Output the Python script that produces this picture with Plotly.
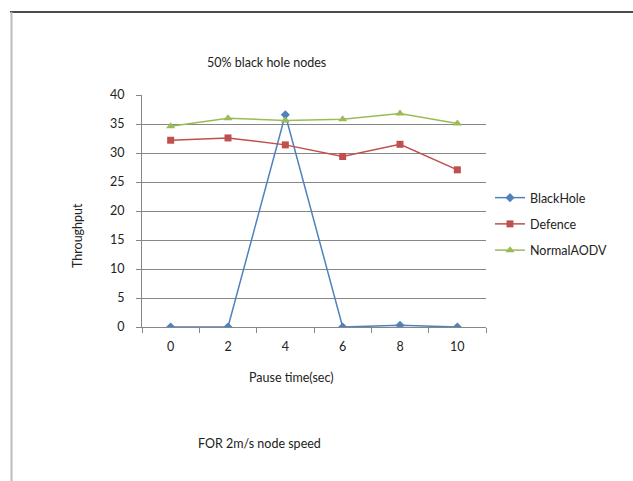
import plotly.graph_objects as go

pause_time = [0, 2, 4, 6, 8, 10]
tick_labels = ["0", "2", "4", "6", "8", "10"]
blackhole = [0, 0, 36.6, 0, 0.3, 0]
defence = [32.2, 32.6, 31.4, 29.4, 31.5, 27.1]
normal_aodv = [34.6, 36.0, 35.6, 35.8, 36.8, 35.1]

FONT = "Lato"
W, H = 633, 481
L, R, T, B = 142, 486, 95, 327

fig = go.Figure()
fig.add_trace(go.Scatter(x=pause_time, y=blackhole, name="BlackHole", mode="lines+markers",
                         legendgroup="a",
                         line=dict(color="#4F81BD", width=1.5),
                         marker=dict(symbol="diamond", size=7, color="#4F81BD")))
fig.add_trace(go.Scatter(x=pause_time, y=defence, name="Defence", mode="lines+markers",
                         legendgroup="b",
                         line=dict(color="#C0504D", width=1.5),
                         marker=dict(symbol="square", size=7, color="#C0504D")))
fig.add_trace(go.Scatter(x=pause_time, y=normal_aodv, name="NormalAODV", mode="lines+markers",
                         legendgroup="c",
                         line=dict(color="#9BBB59", width=1.5),
                         marker=dict(symbol="triangle-up", size=8, color="#9BBB59")))

def px2x(px):
    return (px - L) / (R - L)

def py2y(py):
    return (B - py) / (B - T)

fig.update_layout(
    width=W, height=H,
    margin=dict(l=L, r=W - R, t=T, b=H - B),
    paper_bgcolor="white", plot_bgcolor="white",
    font=dict(family=FONT, size=12, color="#222"),
    showlegend=True,
    legend=dict(x=px2x(490), y=py2y(183), xanchor="left", yanchor="top",
                font=dict(family=FONT, size=12.5, color="#222"),
                traceorder="grouped", tracegroupgap=7, itemwidth=30, bgcolor="rgba(0,0,0,0)"),
    xaxis=dict(range=[-1, 11], tickvals=pause_time, ticktext=tick_labels,
               showgrid=False, zeroline=False, showline=True, linecolor="#868686", linewidth=1,
               ticks="", ticklabelstandoff=8, tickfont=dict(size=12.5, color="#222"),
               minor=dict(tick0=-1, dtick=2, ticks="outside", ticklen=5, tickcolor="#868686", showgrid=False)),
    yaxis=dict(range=[0, 40], dtick=5, showgrid=True, gridcolor="#868686", gridwidth=1,
               zeroline=False, showline=True, linecolor="#868686", linewidth=1,
               ticks="outside", ticklen=5, tickcolor="#868686", ticklabelstandoff=9,
               tickfont=dict(size=12.5, color="#222")),
    annotations=[
        dict(text="50% black hole nodes", x=px2x(266), y=py2y(62), xref="paper", yref="paper",
             showarrow=False, font=dict(size=12.5, color="#222"), xanchor="center", yanchor="middle"),
        dict(text="Pause time(sec)", x=px2x(291), y=py2y(377), xref="paper", yref="paper",
             showarrow=False, font=dict(size=12.5, color="#222"), xanchor="center", yanchor="middle"),
        dict(text="Throughput", x=px2x(77), y=py2y(236), xref="paper", yref="paper", textangle=-90,
             showarrow=False, font=dict(size=12.5, color="#222"), xanchor="center", yanchor="middle"),
        dict(text="FOR 2m/s node speed", x=px2x(259), y=py2y(443), xref="paper", yref="paper",
             showarrow=False, font=dict(size=12.5, color="#222"), xanchor="center", yanchor="middle"),
    ],
    shapes=[
        dict(type="line", xref="paper", yref="paper", x0=px2x(10), x1=px2x(633), y0=py2y(12), y1=py2y(12),
             line=dict(color="#111", width=1.5)),
        dict(type="line", xref="paper", yref="paper", x0=px2x(11.5), x1=px2x(11.5), y0=py2y(12), y1=py2y(481),
             line=dict(color="#BBBBBB", width=2)),
    ],
)

fig.write_html("out.html")
